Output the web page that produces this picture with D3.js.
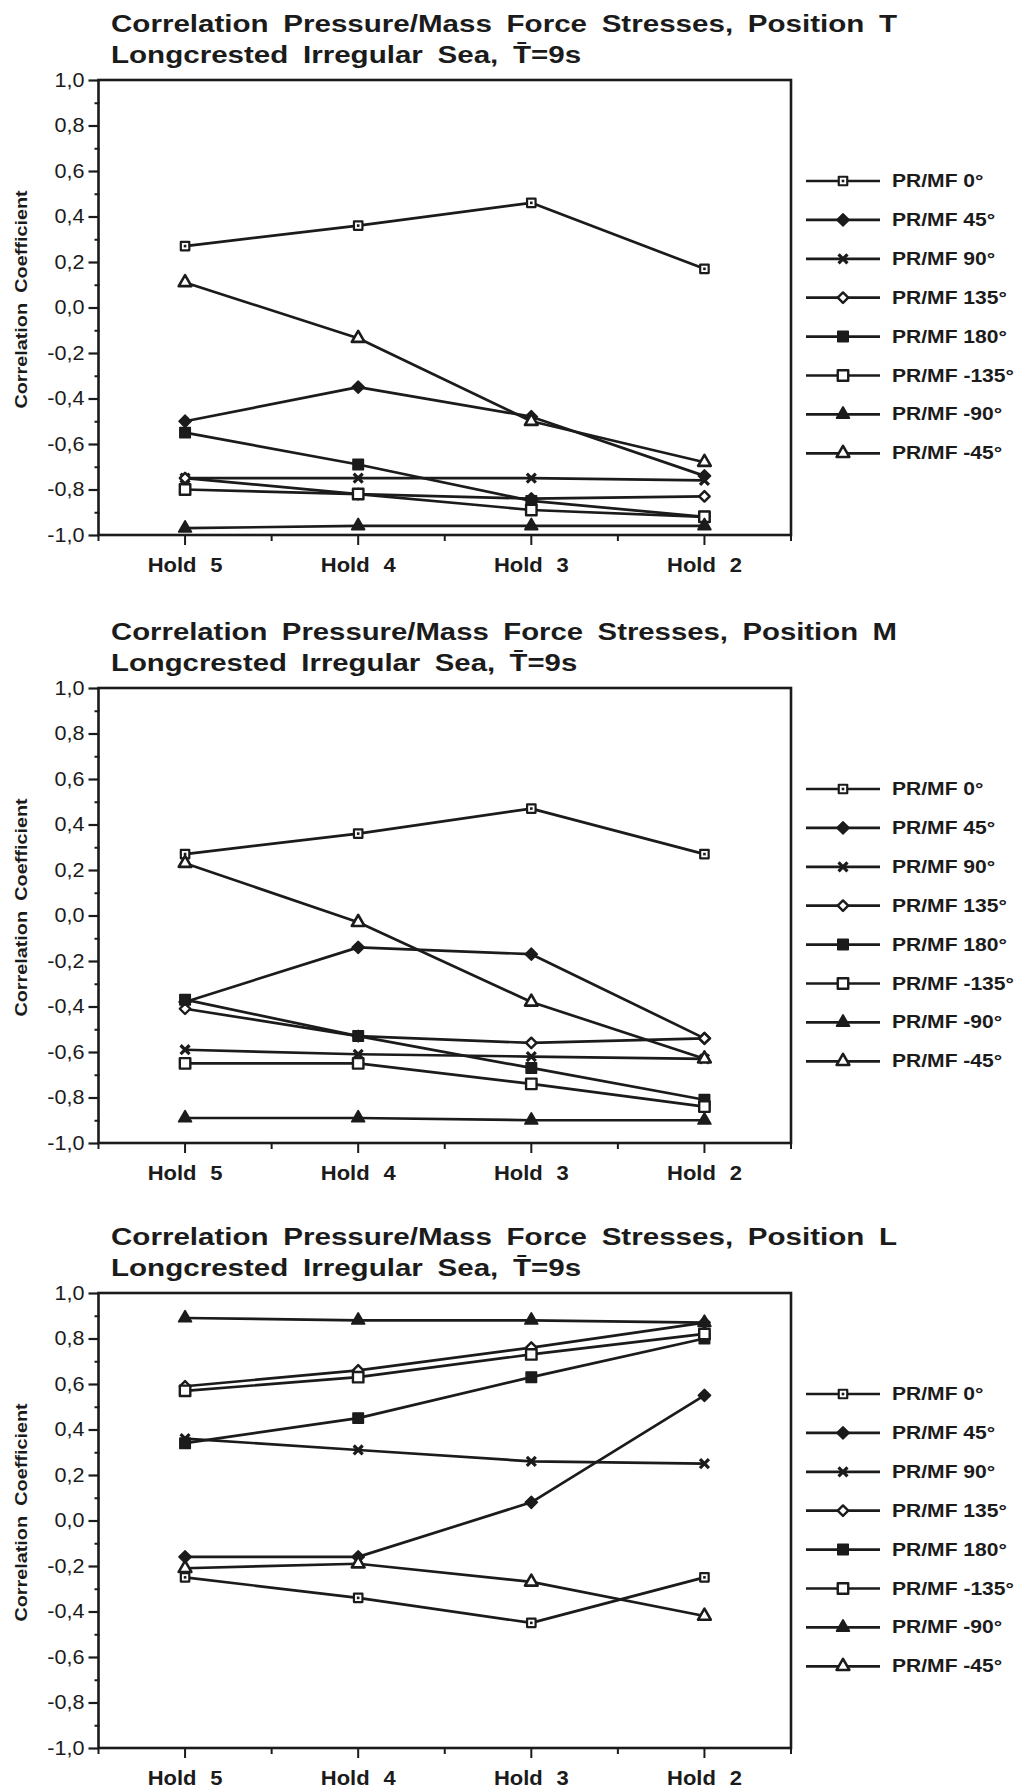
<!DOCTYPE html>
<html>
<head>
<meta charset="utf-8">
<script src="https://cdn.jsdelivr.net/npm/d3@7"></script>
<style>
  html, body { margin: 0; padding: 0; background: #ffffff; }
  svg { display: block; }
  text { font-family: "Liberation Sans", Arial, Helvetica, sans-serif; fill: #1b1b1b; }
</style>
</head>
<body>
<svg id="chart" width="1029" height="1792"></svg>
<script>
// ---- data ----
const categories = ["Hold 5", "Hold 4", "Hold 3", "Hold 2"];
const seriesNames = ["PR/MF 0°", "PR/MF 45°", "PR/MF 90°", "PR/MF 135°",
                     "PR/MF 180°", "PR/MF -135°", "PR/MF -90°", "PR/MF -45°"];
const yTickValues = [1, 0.8, 0.6, 0.4, 0.2, 0, -0.2, -0.4, -0.6, -0.8, -1];
const yTickLabels = ["1,0", "0,8", "0,6", "0,4", "0,2", "0,0", "-0,2", "-0,4", "-0,6", "-0,8", "-1,0"];
const yMinorValues = [0.9, 0.7, 0.5, 0.3, 0.1, -0.1, -0.3, -0.5, -0.7, -0.9];

// one row per series, in seriesNames order; columns follow categories
const valuesT = [
  [0.27, 0.36, 0.46, 0.17],
  [-0.50, -0.35, -0.48, -0.74],
  [-0.75, -0.75, -0.75, -0.76],
  [-0.75, -0.82, -0.84, -0.83],
  [-0.55, -0.69, -0.85, -0.92],
  [-0.80, -0.82, -0.89, -0.92],
  [-0.97, -0.96, -0.96, -0.96],
  [0.11, -0.135, -0.50, -0.68]
];
const valuesM = [
  [0.27, 0.36, 0.47, 0.27],
  [-0.38, -0.14, -0.17, -0.54],
  [-0.59, -0.61, -0.62, -0.63],
  [-0.41, -0.53, -0.56, -0.54],
  [-0.37, -0.53, -0.67, -0.81],
  [-0.65, -0.65, -0.74, -0.84],
  [-0.89, -0.89, -0.90, -0.90],
  [0.23, -0.03, -0.38, -0.63]
];
const valuesL = [
  [-0.25, -0.34, -0.45, -0.25],
  [-0.16, -0.16, 0.08, 0.55],
  [0.36, 0.31, 0.26, 0.25],
  [0.59, 0.66, 0.76, 0.87],
  [0.34, 0.45, 0.63, 0.80],
  [0.57, 0.63, 0.73, 0.82],
  [0.89, 0.88, 0.88, 0.87],
  [-0.21, -0.19, -0.27, -0.42]
];
const titles = [
  ["Correlation Pressure/Mass Force Stresses, Position T", "Longcrested Irregular Sea, T\u0304=9s"],
  ["Correlation Pressure/Mass Force Stresses, Position M", "Longcrested Irregular Sea, T\u0304=9s"],
  ["Correlation Pressure/Mass Force Stresses, Position L", "Longcrested Irregular Sea, T\u0304=9s"]
];
const yAxisTitle = "Correlation Coefficient";

// ---- layout ----
const INK = "#1b1b1b";
const plotLeft = 98.5, plotRight = 791, plotHeight = 455;
const panelTops = [80, 688, 1293];
const panelValues = [valuesT, valuesM, valuesL];

const svg = d3.select("#chart");

// marker shapes for each series
const xMark = { draw(ctx, size) { const r = Math.sqrt(size) / 2; ctx.moveTo(-r, -r); ctx.lineTo(r, r); ctx.moveTo(r, -r); ctx.lineTo(-r, r); } };
const rhombus = { draw(ctx, size) { const r = Math.sqrt(size) / 2; ctx.moveTo(0, -r); ctx.lineTo(r, 0); ctx.lineTo(0, r); ctx.lineTo(-r, 0); ctx.closePath(); } };
const markerSpec = [
  { type: d3.symbolSquare,   size: 72,  fill: "#fff", sw: 2.2, dot: true }, // 0°
  { type: rhombus,           size: 150, fill: INK,    sw: 1.5 },            // 45°
  { type: xMark,             size: 80,  fill: "none", sw: 3.2 },            // 90°
  { type: rhombus,           size: 110, fill: "#fff", sw: 2.4 },            // 135°
  { type: d3.symbolSquare,   size: 110, fill: INK,    sw: 1.5 },            // 180°
  { type: d3.symbolSquare,   size: 110, fill: "#fff", sw: 2.4 },            // -135°
  { type: d3.symbolTriangle, size: 70,  fill: INK,    sw: 1.8 },            // -90°
  { type: d3.symbolTriangle, size: 70,  fill: "#fff", sw: 2.6 }             // -45°
];

function drawMarker(g, i, cx, cy) {
  const m = markerSpec[i];
  g.append("path")
    .attr("d", d3.symbol().type(m.type).size(m.size)())
    .attr("transform", `translate(${cx},${cy})`)
    .attr("fill", m.fill)
    .attr("stroke", INK)
    .attr("stroke-width", m.sw)
    .attr("stroke-linejoin", "round");
  if (m.dot) {
    g.append("rect").attr("x", cx - 1.3).attr("y", cy - 1.3).attr("width", 2.6).attr("height", 2.6).attr("fill", INK);
  }
}

function stretch(sel, factor) {
  sel.each(function () {
    const len = this.getComputedTextLength();
    this.setAttribute("textLength", (len * factor).toFixed(1));
    this.setAttribute("lengthAdjust", "spacingAndGlyphs");
  });
}

const x = d3.scaleBand().domain(categories).range([plotLeft, plotRight]).padding(0);

panelTops.forEach((top, p) => {
  const bottom = top + plotHeight;
  const y = d3.scaleLinear().domain([-1, 1]).range([bottom, top]);
  const g = svg.append("g");
  const values = panelValues[p];

  // titles
  const t1 = g.append("text").attr("x", 111).attr("y", top - 48)
    .attr("font-size", 23).attr("font-weight", "bold").attr("word-spacing", 5).text(titles[p][0]);
  const t2 = g.append("text").attr("x", 111).attr("y", top - 17)
    .attr("font-size", 23).attr("font-weight", "bold").attr("word-spacing", 5).text(titles[p][1]);
  const factor = 786 / t1.node().getComputedTextLength();
  stretch(t1, factor);
  stretch(t2, factor);

  // frame
  g.append("rect").attr("x", plotLeft).attr("y", top)
    .attr("width", plotRight - plotLeft).attr("height", plotHeight)
    .attr("fill", "none").attr("stroke", INK).attr("stroke-width", 2.6);

  // y axis: major and minor ticks
  const yAxis = g.append("g").attr("transform", `translate(${plotLeft},0)`)
    .call(d3.axisLeft(y).tickValues(yTickValues).tickFormat((d, i) => yTickLabels[i]).tickSize(10).tickPadding(4));
  yAxis.select(".domain").remove();
  yAxis.selectAll("line").attr("stroke", INK).attr("stroke-width", 2.2);
  yAxis.selectAll("text").attr("font-size", 20).attr("fill", INK)
    .style("font-family", "'Liberation Sans', Arial, sans-serif");
  stretch(yAxis.selectAll("text"), 1.08);
  const yMinor = g.append("g").attr("transform", `translate(${plotLeft + 1},0)`)
    .call(d3.axisLeft(y).tickValues(yMinorValues).tickFormat("").tickSize(5));
  yMinor.select(".domain").remove();
  yMinor.selectAll("line").attr("stroke", INK).attr("stroke-width", 2);

  // x axis: ticks at category centres, short ticks at band edges
  const xAxis = g.append("g").attr("transform", `translate(0,${bottom})`)
    .call(d3.axisBottom(x).tickSize(10).tickPadding(13));
  xAxis.select(".domain").remove();
  xAxis.selectAll("line").attr("stroke", INK).attr("stroke-width", 2);
  xAxis.selectAll("text").attr("font-size", 20).attr("font-weight", "bold").attr("fill", INK)
    .attr("word-spacing", 7).style("font-family", "'Liberation Sans', Arial, sans-serif");
  stretch(xAxis.selectAll("text"), 1.1);
  const edges = d3.range(categories.length + 1).map(i => plotLeft + i * x.step());
  g.selectAll(".edgeTick").data(edges).join("line")
    .attr("x1", d => d).attr("x2", d => d)
    .attr("y1", bottom).attr("y2", bottom + 6)
    .attr("stroke", INK).attr("stroke-width", 2);

  // y axis title
  const yt = g.append("text")
    .attr("transform", `translate(21,${top + plotHeight / 2 - 8}) rotate(-90)`)
    .attr("text-anchor", "middle").attr("dominant-baseline", "central")
    .attr("font-size", 16.5).attr("font-weight", "bold").attr("word-spacing", 4)
    .text(yAxisTitle);
  stretch(yt, 1.2);

  // series lines and markers
  const line = d3.line().x((d, i) => x(categories[i]) + x.bandwidth() / 2).y(d => y(d));
  const marks = g.append("g");
  values.forEach((row, s) => {
    marks.append("path").attr("d", line(row)).attr("fill", "none")
      .attr("stroke", INK).attr("stroke-width", 2.7).attr("stroke-linejoin", "round");
  });
  values.forEach((row, s) => {
    row.forEach((v, i) => drawMarker(marks, s, x(categories[i]) + x.bandwidth() / 2, y(v)));
  });

  // legend
  const lg = g.append("g");
  seriesNames.forEach((name, s) => {
    const ly = top + 101 + s * 38.9;
    lg.append("line").attr("x1", 806).attr("x2", 880).attr("y1", ly).attr("y2", ly)
      .attr("stroke", INK).attr("stroke-width", 2.7);
    drawMarker(lg, s, 843, ly);
    const lt = lg.append("text").attr("x", 892).attr("y", ly).attr("dominant-baseline", "central")
      .attr("font-size", 18).attr("font-weight", "bold").text(name);
    stretch(lt, 1.17);
  });
});
</script>
</body>
</html>
